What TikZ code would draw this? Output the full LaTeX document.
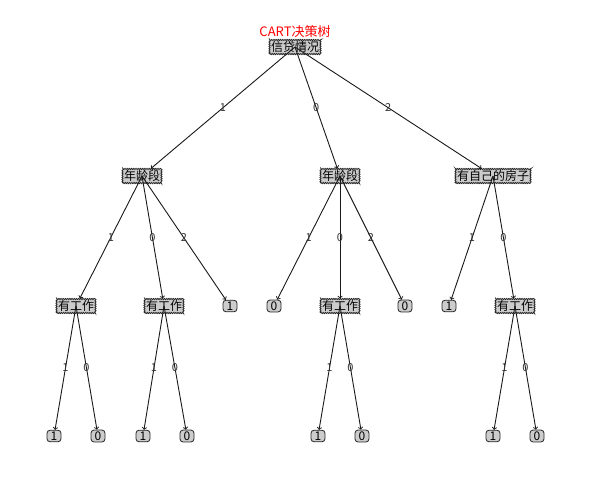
\documentclass[tikz,border=0pt]{standalone}
\usepackage{fontspec}
\setmainfont{Noto Sans CJK SC}
\usetikzlibrary{arrows, decorations.pathmorphing}

\begin{document}
\begin{tikzpicture}[x=1pt, y=-1pt,
  dec/.style={draw=black!85, fill=black!20, line width=.8pt, inner sep=1.5pt, font=\fontsize{12}{12}\selectfont,
    decorate, decoration={zigzag, segment length=2.2pt, amplitude=.6pt}},
  leaf/.style={draw=black!85, fill=black!20, line width=.8pt, rounded corners=3pt, inner sep=1.5pt, minimum width=14pt, font=\fontsize{12}{12}\selectfont},
  edge/.style={->, line width=.9pt, black!90},
  lab/.style={font=\fontsize{11}{11}\selectfont, text=black!80, inner sep=0pt}]
  \useasboundingbox (0,0) rectangle (600,485);

  \node[text=red, font=\fontsize{13}{13}\selectfont] (title) at (295,32) {CART决策树};

  \node[dec] (root) at (295,47) {信贷情况};

  \node[dec] (age1) at (142,176) {年龄段};
  \node[dec] (age2) at (340,176) {年龄段};
  \node[dec] (house) at (493,176) {有自己的房子};

  \node[dec] (job1) at (76,306) {有工作};
  \node[dec] (job2) at (164,306) {有工作};
  \node[leaf] (l1) at (230,306) {1};
  \node[leaf] (l2) at (274,306) {0};
  \node[dec] (job3) at (340,306) {有工作};
  \node[leaf] (l3) at (405,306) {0};
  \node[leaf] (l4) at (449,306) {1};
  \node[dec] (job4) at (515,306) {有工作};

  \node[leaf] (m1) at (54,436) {1};
  \node[leaf] (m2) at (98,436) {0};
  \node[leaf] (m3) at (143,436) {1};
  \node[leaf] (m4) at (187,436) {0};
  \node[leaf] (m5) at (318,436) {1};
  \node[leaf] (m6) at (362,436) {0};
  \node[leaf] (m7) at (493,436) {1};
  \node[leaf] (m8) at (537,436) {0};

  \draw[edge] (root.center) -- node[lab] {1} (age1);
  \draw[edge] (root.center) -- node[lab] {0} (age2);
  \draw[edge] (root.center) -- node[lab] {2} (house);

  \draw[edge] (age1.center) -- node[lab] {1} (job1);
  \draw[edge] (age1.center) -- node[lab] {0} (job2);
  \draw[edge] (age1.center) -- node[lab] {2} (l1);
  \draw[edge] (age2.center) -- node[lab] {1} (l2);
  \draw[edge] (age2.center) -- node[lab] {0} (job3);
  \draw[edge] (age2.center) -- node[lab] {2} (l3);
  \draw[edge] (house.center) -- node[lab] {1} (l4);
  \draw[edge] (house.center) -- node[lab] {0} (job4);

  \draw[edge] (job1.center) -- node[lab] {1} (m1);
  \draw[edge] (job1.center) -- node[lab] {0} (m2);
  \draw[edge] (job2.center) -- node[lab] {1} (m3);
  \draw[edge] (job2.center) -- node[lab] {0} (m4);
  \draw[edge] (job3.center) -- node[lab] {1} (m5);
  \draw[edge] (job3.center) -- node[lab] {0} (m6);
  \draw[edge] (job4.center) -- node[lab] {1} (m7);
  \draw[edge] (job4.center) -- node[lab] {0} (m8);
\end{tikzpicture}
\end{document}
